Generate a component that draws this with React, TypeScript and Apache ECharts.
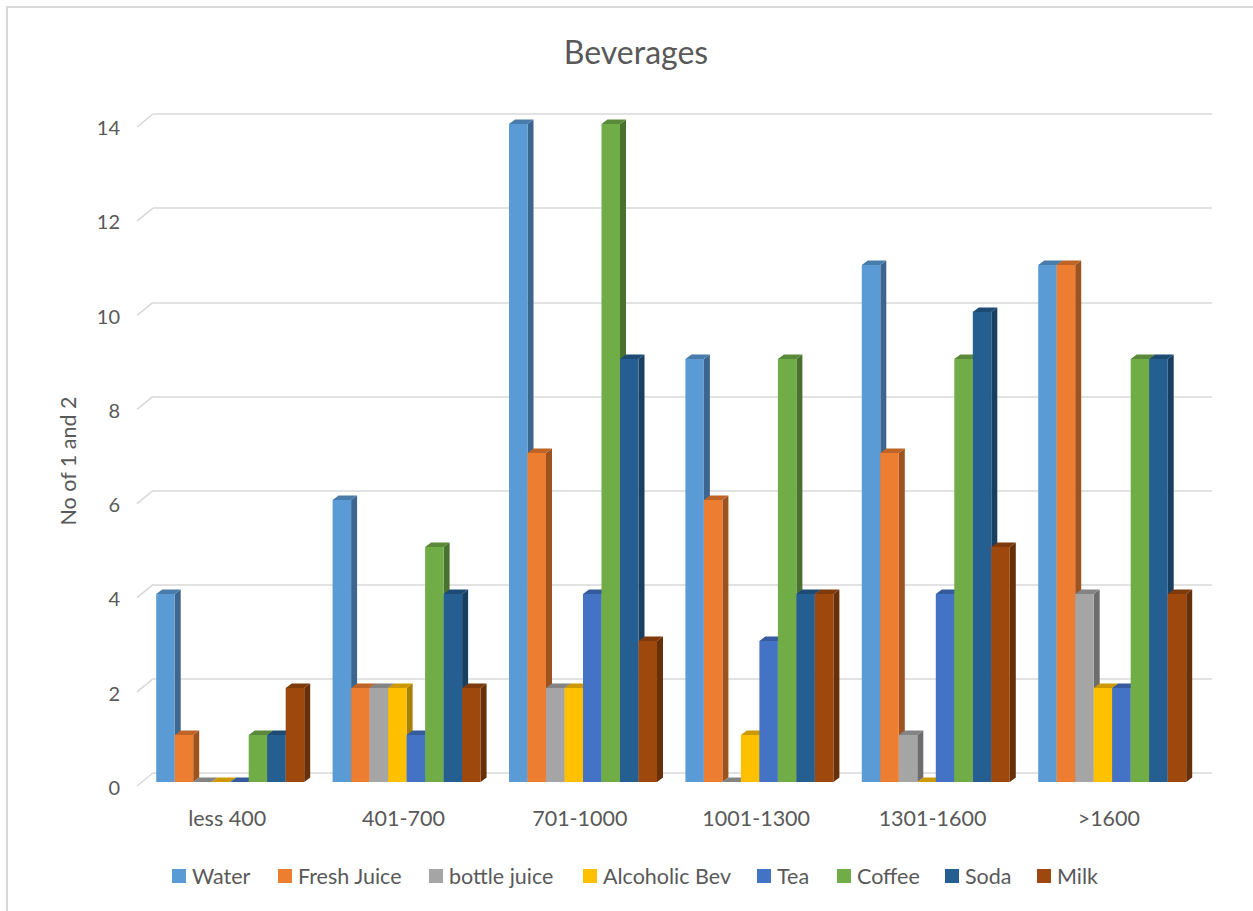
import React, { useEffect, useRef } from "react";
import * as echarts from "echarts";

const categories = ["less 400", "401-700", "701-1000", "1001-1300", "1301-1600", ">1600"];
const seriesNames = ["Water", "Fresh Juice", "bottle juice", "Alcoholic Bev", "Tea", "Coffee", "Soda", "Milk"];
const seriesColors = ["#5B9BD5", "#ED7D31", "#A5A5A5", "#FFC000", "#4472C4", "#70AD47", "#255E91", "#9E480E"];

const water = [4, 6, 14, 9, 11, 11];
const freshJuice = [1, 2, 7, 6, 7, 11];
const bottleJuice = [0, 2, 2, 0, 1, 4];
const alcoholicBev = [0, 2, 2, 1, 0, 2];
const tea = [0, 1, 4, 3, 4, 2];
const coffee = [1, 5, 14, 9, 9, 9];
const soda = [1, 4, 9, 4, 10, 9];
const milk = [2, 2, 3, 4, 5, 4];

const seriesValues = [water, freshJuice, bottleJuice, alcoholicBev, tea, coffee, soda, milk];
const yTicks = [0, 2, 4, 6, 8, 10, 12, 14];

const FONT = "Lato, 'Liberation Sans', sans-serif";
const TEXT = "#595959";
const legendLeft = [167, 273, 424, 578, 752, 832, 940, 1032];

// 3D extrusion of each bar (pixels)
const DEPTH_X = 6;
const DEPTH_Y = 4.5;
// wall-to-front offset for the gridline diagonals
const WALL_DX = 16;
const WALL_DY = 13;

function shade(hex: string, f: number): string {
  const n = parseInt(hex.slice(1), 16);
  const r = Math.round(((n >> 16) & 255) * f);
  const g = Math.round(((n >> 8) & 255) * f);
  const b = Math.round((n & 255) * f);
  return `rgb(${r},${g},${b})`;
}

export default function App() {
  const ref = useRef<HTMLDivElement>(null);

  useEffect(() => {
    if (!ref.current) return;
    const chart = echarts.init(ref.current, null, { renderer: "svg" });

    const barSeries = seriesNames.map((name, si) => ({
      name,
      type: "custom",
      xAxisIndex: 2,
      yAxisIndex: 2,
      itemStyle: { color: seriesColors[si] },
      data: seriesValues[si].map((v, ci) => [ci, v]),
      renderItem: (params: any, api: any) => {
        const ci = api.value(0);
        const v = api.value(1);
        const base = api.coord([ci, 0]);
        const topPt = api.coord([ci, v]);
        const band = api.size([1, 0])[0];
        const barW = (band * 0.839) / seriesNames.length;
        const x0 = base[0] - (barW * seriesNames.length) / 2 + si * barW;
        const x1 = x0 + barW;
        const yb = base[1];
        const yt = topPt[1];
        const c = seriesColors[si];
        return {
          type: "group",
          children: [
            {
              type: "polygon",
              shape: {
                points: [
                  [x1, yt],
                  [x1 + DEPTH_X, yt - DEPTH_Y],
                  [x1 + DEPTH_X, yb - DEPTH_Y],
                  [x1, yb],
                ],
              },
              style: { fill: shade(c, 0.66) },
            },
            {
              type: "polygon",
              shape: {
                points: [
                  [x0, yt],
                  [x0 + DEPTH_X, yt - DEPTH_Y],
                  [x1 + DEPTH_X, yt - DEPTH_Y],
                  [x1, yt],
                ],
              },
              style: { fill: shade(c, 0.8) },
            },
            {
              type: "rect",
              shape: { x: x0, y: yt, width: barW, height: yb - yt },
              style: { fill: c },
            },
          ],
        };
      },
    }));

    const option: any = {
      animation: false,
      color: seriesColors,
      title: {
        text: "Beverages",
        left: 631,
        top: 30,
        textAlign: "center",
        textStyle: { fontFamily: FONT, fontSize: 32, fontWeight: "normal", color: TEXT },
      },
      legend: seriesNames.map((name, i) => ({
        data: [name],
        left: legendLeft[i],
        top: 860,
        itemWidth: 14,
        itemHeight: 14,
        icon: "rect",
        selectedMode: false,
        textStyle: { fontFamily: FONT, fontSize: 21.5, color: TEXT, padding: [0, 0, 0, 1] },
      })),
      graphic: [
        {
          type: "rect",
          shape: { x: 7, y: 7, width: 1252, height: 910 },
          style: { fill: "none", stroke: "#d9d9d9", lineWidth: 2 },
          silent: true,
        },
        {
          type: "text",
          x: 68,
          y: 461,
          rotation: Math.PI / 2,
          style: {
            text: "No of 1 and 2",
            fontFamily: FONT,
            fontSize: 21.5,
            fill: TEXT,
            align: "center",
            verticalAlign: "middle",
          },
        },
      ],
      grid: [
        // back wall
        { left: 153, top: 114, width: 1059, height: 659 },
        // front edge (labels)
        { left: 139, top: 127, width: 1058, height: 660 },
        // bars
        { left: 142, top: 124, width: 1058.4, height: 658 },
      ],
      xAxis: [
        { gridIndex: 0, type: "value", min: 0, max: 1, show: false },
        {
          gridIndex: 1,
          type: "category",
          data: categories,
          axisLine: { show: false },
          axisTick: { show: false },
          axisLabel: { margin: 20, fontFamily: FONT, fontSize: 21.5, color: TEXT },
        },
        { gridIndex: 2, type: "category", data: categories, show: false },
      ],
      yAxis: [
        {
          gridIndex: 0,
          type: "value",
          min: 0,
          max: 14,
          interval: 2,
          axisLabel: { show: false },
          axisLine: { show: false },
          axisTick: { show: false },
          splitLine: { lineStyle: { color: "#d9d9d9", width: 1.6 } },
        },
        {
          gridIndex: 1,
          type: "value",
          min: 0,
          max: 14,
          interval: 2,
          axisLine: { show: false },
          axisTick: { show: false },
          splitLine: { show: false },
          axisLabel: { margin: 19, fontFamily: FONT, fontSize: 20, color: TEXT },
        },
        { gridIndex: 2, type: "value", min: 0, max: 14, interval: 2, show: false, splitLine: { show: false } },
      ],
      series: [
        {
          type: "custom",
          name: "wallEdges",
          xAxisIndex: 0,
          yAxisIndex: 0,
          silent: true,
          data: yTicks.map((t) => [0, t]),
          renderItem: (params: any, api: any) => {
            const p = api.coord([0, api.value(1)]);
            return {
              type: "line",
              shape: { x1: p[0] - WALL_DX, y1: p[1] + WALL_DY, x2: p[0], y2: p[1] },
              style: { stroke: "#d9d9d9", lineWidth: 1.6 },
            };
          },
        },
        ...barSeries,
      ],
    };

    chart.setOption(option);
    return () => chart.dispose();
  }, []);

  return (
    <div
      ref={ref}
      style={{ position: "fixed", left: 0, top: 0, width: 1253, height: 911, background: "#fff" }}
    />
  );
}
